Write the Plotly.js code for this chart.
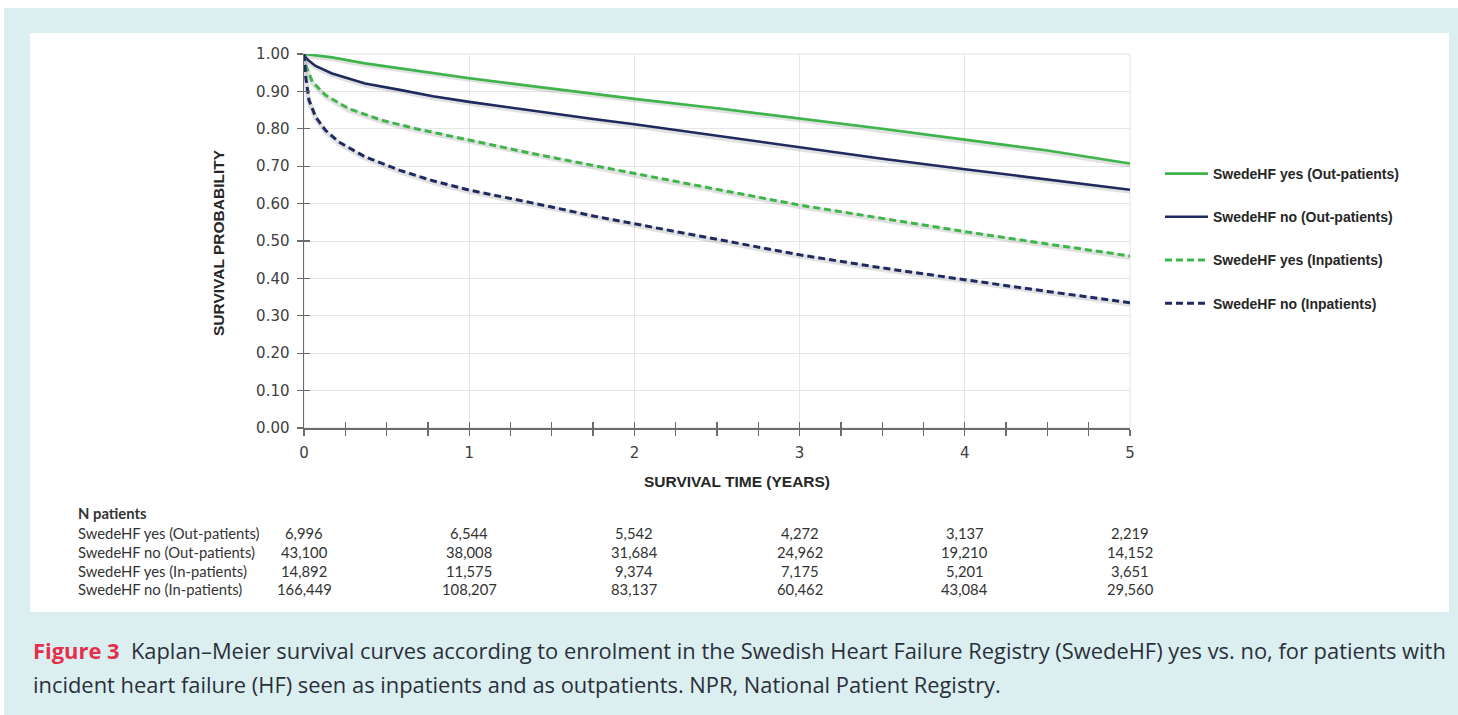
<!DOCTYPE html>
<html>
<head>
<meta charset="utf-8">
<script src="https://cdn.plot.ly/plotly-3.0.1.min.js"></script>
<style>
html,body{margin:0;padding:0;background:#ffffff;}
#panel{position:absolute;left:4px;top:8px;width:1454px;height:707px;background:#DBEFF1;}
#inner{position:absolute;left:30px;top:33px;width:1419px;height:579px;background:#ffffff;}
#chart{position:absolute;left:0;top:0;width:1458px;height:715px;}
</style>
</head>
<body>
<div id="panel"></div>
<div id="inner"></div>
<div id="chart"></div>
<script>
// ---- data ----
const timeYesOut = [0, 0.17, 0.37, 0.58, 0.78, 1, 1.38, 1.75, 2, 2.5, 3, 3.5, 4, 4.5, 5];
const survYesOut = [1.0, 0.991, 0.975, 0.962, 0.948, 0.935, 0.914, 0.894, 0.880, 0.855, 0.828, 0.800, 0.771, 0.742, 0.707];

const timeNoOut = [0, 0.01, 0.03, 0.07, 0.17, 0.37, 0.58, 0.78, 1, 1.38, 1.75, 2, 2.5, 3, 3.5, 4, 4.5, 5];
const survNoOut = [1.0, 0.99, 0.982, 0.968, 0.948, 0.921, 0.904, 0.887, 0.872, 0.848, 0.826, 0.812, 0.781, 0.749, 0.720, 0.692, 0.664, 0.637];

const timeYesIn = [0, 0.01, 0.05, 0.13, 0.27, 0.47, 0.68, 1, 1.38, 1.75, 2, 2.5, 3, 3.5, 4, 4.5, 5];
const survYesIn = [1.0, 0.97, 0.926, 0.890, 0.854, 0.823, 0.800, 0.770, 0.734, 0.702, 0.680, 0.638, 0.596, 0.560, 0.525, 0.492, 0.460];

const timeNoIn = [0, 0.003, 0.01, 0.03, 0.07, 0.13, 0.21, 0.37, 0.58, 0.78, 1, 1.38, 1.75, 2, 2.5, 3, 3.5, 4, 4.5, 5];
const survNoIn = [1.0, 0.97, 0.94, 0.877, 0.832, 0.796, 0.765, 0.725, 0.689, 0.661, 0.636, 0.602, 0.567, 0.546, 0.504, 0.463, 0.428, 0.396, 0.365, 0.335];

const seriesNames = ["SwedeHF yes (Out-patients)", "SwedeHF no (Out-patients)", "SwedeHF yes (Inpatients)", "SwedeHF no (Inpatients)"];

const riskTimes = [0, 1, 2, 3, 4, 5];
const tableRowLabels = ["SwedeHF yes (Out-patients)", "SwedeHF no (Out-patients)", "SwedeHF yes (In-patients)", "SwedeHF no (In-patients)"];
const riskYesOut = ["6,996", "6,544", "5,542", "4,272", "3,137", "2,219"];
const riskNoOut = ["43,100", "38,008", "31,684", "24,962", "19,210", "14,152"];
const riskYesIn = ["14,892", "11,575", "9,374", "7,175", "5,201", "3,651"];
const riskNoIn = ["166,449", "108,207", "83,137", "60,462", "43,084", "29,560"];

const xAxisTitle = "SURVIVAL TIME (YEARS)";
const yAxisTitle = "SURVIVAL PROBABILITY";
const tableTitle = "N patients";
const figureLabel = "Figure 3";
const captionLine1 = "Kaplan–Meier survival curves according to enrolment in the Swedish Heart Failure Registry (SwedeHF) yes vs. no, for patients with";
const captionLine2 = "incident heart failure (HF) seen as inpatients and as outpatients. NPR, National Patient Registry.";

// ---- layout geometry ----
const FIG_W = 1458, FIG_H = 715;
const L = 304, T = 54, R = 1130, B = 428;
const PW = R - L, PH = B - T;
const px2x = p => (p - L) / PW;
const py2y = p => (B - p) / PH;

const GREEN = "#3DB54B";
const NAVY = "#1F2A5E";
const AXIS = "#6b6b6b";
const TXT = "#404040";
const DASH = "7px,4px";

const shadow = (x, y) => ({
  x: x, y: y, type: "scatter", mode: "lines", showlegend: false, hoverinfo: "skip",
  line: {color: "rgba(120,120,120,0.22)", width: 5}
});

const traces = [
  shadow(timeYesOut, survYesOut.map(v => v - 0.004)),
  shadow(timeNoOut, survNoOut.map(v => v - 0.004)),
  shadow(timeYesIn, survYesIn.map(v => v - 0.004)),
  shadow(timeNoIn, survNoIn.map(v => v - 0.004)),
  {x: timeYesOut, y: survYesOut, name: seriesNames[0], type: "scatter", mode: "lines", legendgroup: "a",
   line: {color: GREEN, width: 2.6}},
  {x: timeNoOut, y: survNoOut, name: seriesNames[1], type: "scatter", mode: "lines", legendgroup: "b",
   line: {color: NAVY, width: 2.6}},
  {x: timeYesIn, y: survYesIn, name: seriesNames[2], type: "scatter", mode: "lines", legendgroup: "c",
   line: {color: GREEN, width: 3, dash: DASH}},
  {x: timeNoIn, y: survNoIn, name: seriesNames[3], type: "scatter", mode: "lines", legendgroup: "d",
   line: {color: NAVY, width: 3, dash: DASH}},
  // invisible trace that activates the overlay axes used for the crossing tick marks
  {x: [0], y: [0], xaxis: "x2", yaxis: "y2", type: "scatter", mode: "markers", marker: {opacity: 0},
   showlegend: false, hoverinfo: "skip"}
];

const annotations = [];
const titleFont = {family: "'Liberation Sans', Arial, sans-serif", size: 15.5, color: "#262626", weight: "bold"};
annotations.push({xref: "paper", yref: "paper", x: px2x(737), y: py2y(482), xanchor: "center", yanchor: "middle",
  showarrow: false, text: "<b>" + xAxisTitle + "</b>", font: titleFont});
annotations.push({xref: "paper", yref: "paper", x: px2x(218), y: py2y(243), xanchor: "center", yanchor: "middle",
  showarrow: false, textangle: -90, text: "<b>" + yAxisTitle + "</b>", font: titleFont});

const tableFont = {family: "Lato, 'Liberation Sans', sans-serif", size: 14.8, color: "#333333"};
annotations.push({xref: "paper", yref: "paper", x: px2x(76), y: py2y(513), xanchor: "left", yanchor: "middle",
  showarrow: false, text: "<b>" + tableTitle + "</b>", font: tableFont});
const rowsY = [533, 552, 571, 589];
const riskRows = [riskYesOut, riskNoOut, riskYesIn, riskNoIn];
tableRowLabels.forEach((lab, i) => {
  annotations.push({xref: "paper", yref: "paper", x: px2x(76), y: py2y(rowsY[i]), xanchor: "left", yanchor: "middle",
    showarrow: false, text: lab, font: tableFont});
  riskRows[i].forEach((v, j) => {
    annotations.push({xref: "x", yref: "paper", x: riskTimes[j], y: py2y(rowsY[i]), xanchor: "center", yanchor: "middle",
      showarrow: false, text: v, font: tableFont});
  });
});

const capFont = {family: "'Open Sans', Lato, sans-serif", size: 21.9, color: "#2b2f3a"};
annotations.push({xref: "paper", yref: "paper", x: px2x(31), y: py2y(650), xanchor: "left", yanchor: "middle",
  showarrow: false, font: capFont,
  text: "<b><span style='color:#E4304B'>" + figureLabel + "</span></b>  " + captionLine1});
annotations.push({xref: "paper", yref: "paper", x: px2x(31), y: py2y(684), xanchor: "left", yanchor: "middle",
  showarrow: false, font: capFont, text: captionLine2});

const tickFont = {family: "'DejaVu Sans', Verdana, sans-serif", size: 15, color: TXT};
const tickStyle = {ticklen: 6, tickcolor: AXIS, tickwidth: 1.3};

const layout = {
  width: FIG_W, height: FIG_H,
  paper_bgcolor: "rgba(0,0,0,0)", plot_bgcolor: "#ffffff",
  margin: {l: L, r: FIG_W - R, t: T, b: FIG_H - B, pad: 0},
  showlegend: true,
  legend: {x: px2x(1160), y: py2y(158), xanchor: "left", yanchor: "top",
    font: {family: "'Liberation Sans', Arial, sans-serif", size: 14, color: "#262626", weight: "bold"},
    tracegroupgap: 22, itemwidth: 43, bgcolor: "rgba(0,0,0,0)"},
  xaxis: Object.assign({range: [0, 5], tickmode: "linear", tick0: 0, dtick: 1,
    showline: true, linecolor: AXIS, linewidth: 1.5, ticks: "outside",
    showgrid: true, gridcolor: "#e6e6e6", gridwidth: 1, zeroline: false, tickfont: tickFont, ticklabelstandoff: 4,
    minor: {tick0: 0, dtick: 0.25, ticks: "outside", ticklen: 6, tickcolor: AXIS, tickwidth: 1.3, showgrid: false},
    fixedrange: true}, tickStyle),
  xaxis2: Object.assign({overlaying: "x", range: [0, 5], side: "bottom", anchor: "y", tickmode: "linear", tick0: 0, dtick: 0.25,
    ticks: "inside", showticklabels: false, showgrid: false, showline: false, zeroline: false, fixedrange: true}, tickStyle),
  yaxis: Object.assign({range: [0, 1], tickmode: "linear", tick0: 0, dtick: 0.1, tickformat: ".2f",
    showline: true, linecolor: AXIS, linewidth: 1.5, ticks: "outside",
    showgrid: true, gridcolor: "#e6e6e6", gridwidth: 1, zeroline: false, tickfont: tickFont, ticklabelstandoff: 4,
    fixedrange: true}, tickStyle),
  yaxis2: Object.assign({overlaying: "y", range: [0, 1], side: "left", anchor: "x", tickmode: "linear", tick0: 0, dtick: 0.1,
    ticks: "inside", showticklabels: false, showgrid: false, showline: false, zeroline: false, fixedrange: true}, tickStyle),
  shapes: [{type: "rect", xref: "paper", yref: "paper", x0: 0, x1: 1, y0: 0, y1: 1,
    line: {color: "#e3e3e3", width: 1}, layer: "below"}],
  annotations: annotations
};

Plotly.newPlot("chart", traces, layout, {displayModeBar: false, staticPlot: true});
</script>
</body>
</html>
